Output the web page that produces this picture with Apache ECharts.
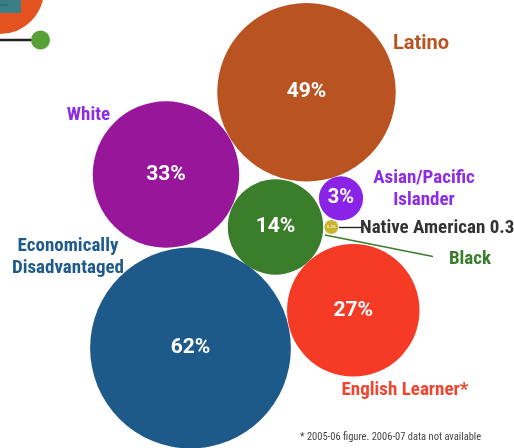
<!DOCTYPE html>
<html>
<head>
<meta charset="utf-8">
<script src="https://cdn.jsdelivr.net/npm/echarts@6/dist/echarts.min.js"></script>
<style>
  html, body { margin: 0; padding: 0; background: #ffffff; }
  #chart { width: 514px; height: 448px; }
</style>
</head>
<body>
<div id="chart"></div>
<script>
// Student groups and their share of enrollment (percent)
const groups = ['Latino', 'White', 'Black', 'Asian/Pacific Islander', 'Native American', 'English Learner', 'Economically Disadvantaged'];
const shares = [49, 33, 14, 3, 0.3, 27, 62];

// Bubble-pack layout: centre of each bubble in the chart's layout space
const layoutX = [306.5, 166, 275.5, 341, 331.3, 353.3, 190.5];
const layoutY = [92.2, 174.5, 227, 198.3, 227, 310.3, 348];
const bubbleColors = ['#b95422', '#97169a', '#3a7d2b', '#8a22e8', '#c9b42f', '#f53a25', '#1d5a8a'];

// Outer group names and where they sit
const nameText = ['Latino', 'White', 'Black', 'Asian/Pacific\nIslander', 'Native American 0.3', 'English Learner*', 'Economically\nDisadvantaged'];
const nameX = [421, 88.5, 470, 424, 360, 405, 68];
const nameY = [43.5, 115, 259, 189, 228, 390, 257];
const nameAlign = ['center', 'center', 'center', 'center', 'left', 'center', 'center'];
const nameColors = ['#b95422', '#8c2ce6', '#3a7d2b', '#8c2ce6', '#333333', '#f04530', '#1f5a8a'];

// Leader lines for the two small groups
const leaderLines = [
  { from: [339, 227.5], to: [363, 227.5], color: '#222222' },
  { from: [325, 235], to: [433, 256.5], color: '#3a7d2b' }
];

const footnote = '* 2005-06 figure. 2006-07 data not available';

// Area-proportional bubbles: diameter = k * sqrt(share)
const SIZE_K = 25.5;
const LABEL_FONT = "'Roboto Condensed', Roboto, sans-serif";
const WIDE_FONT = 'Roboto, sans-serif';

const bubbleData = shares.map((v, i) => ({
  value: [layoutX[i], layoutY[i], v],
  name: groups[i],
  itemStyle: { color: bubbleColors[i] },
  label: i === 4 ? { fontSize: 4, color: '#f3eec8' } : (i === 3 ? { fontSize: 20 } : {})
}));

const nameData = nameText.map((t, i) => {
  const label = { formatter: t, align: nameAlign[i], color: nameColors[i] };
  if (i === 0) { label.fontFamily = WIDE_FONT; label.fontSize = 20; }
  return { value: [nameX[i], nameY[i]], label: label };
});

// Partial neighbouring graphic at the top-left edge
const edgeShapes = [
  { value: [0, -10], symbol: 'circle', symbolSize: 88, itemStyle: { color: '#e4521f' } },
  { value: [0, 0], symbol: 'rect', symbolSize: [42, 26], itemStyle: { color: '#3b7f86' } },
  { value: [0, 5], symbol: 'rect', symbolSize: [16, 1.5], itemStyle: { color: '#2f6a70' } },
  { value: [40.5, 40], symbol: 'circle', symbolSize: 19, itemStyle: { color: '#56a036' } }
];

const chart = echarts.init(document.getElementById('chart'), null, { renderer: 'canvas' });

const series = [
  {
    type: 'line',
    data: [[0, 40], [32, 40]],
    symbol: 'none',
    lineStyle: { color: '#222222', width: 2.5 },
    silent: true,
    clip: false,
    z: 1
  },
  {
    type: 'scatter',
    data: edgeShapes,
    clip: false,
    silent: true,
    itemStyle: { opacity: 1 },
    z: 2
  }
];

leaderLines.forEach(l => {
  series.push({
    type: 'line',
    data: [l.from, l.to],
    symbol: 'none',
    lineStyle: { color: l.color, width: 1.4 },
    silent: true,
    z: 3
  });
});

series.push({
  type: 'scatter',
  data: bubbleData,
  symbolSize: d => SIZE_K * Math.sqrt(d[2]),
  clip: false,
  z: 4,
  itemStyle: { opacity: 1 },
  label: {
    show: true,
    position: 'inside',
    formatter: p => p.value[2] + '%',
    color: '#ffffff',
    fontFamily: WIDE_FONT,
    fontWeight: 'bold',
    fontSize: 21
  }
});

series.push({
  type: 'scatter',
  data: nameData,
  symbolSize: 0,
  z: 5,
  itemStyle: { opacity: 1 },
  label: {
    show: true,
    position: 'inside',
    fontFamily: LABEL_FONT,
    fontWeight: 'bold',
    fontSize: 19,
    lineHeight: 22,
    verticalAlign: 'middle'
  }
});

chart.setOption({
  animation: false,
  backgroundColor: '#ffffff',
  title: {
    text: footnote,
    left: 300,
    top: 432,
    padding: 0,
    textStyle: { fontFamily: LABEL_FONT, fontWeight: 'normal', fontSize: 10.5, color: '#444444' }
  },
  grid: { left: 0, right: 0, top: 0, bottom: 0 },
  xAxis: { type: 'value', min: 0, max: 514, show: false },
  yAxis: { type: 'value', min: 0, max: 448, inverse: true, show: false },
  series: series
});
</script>
</body>
</html>
